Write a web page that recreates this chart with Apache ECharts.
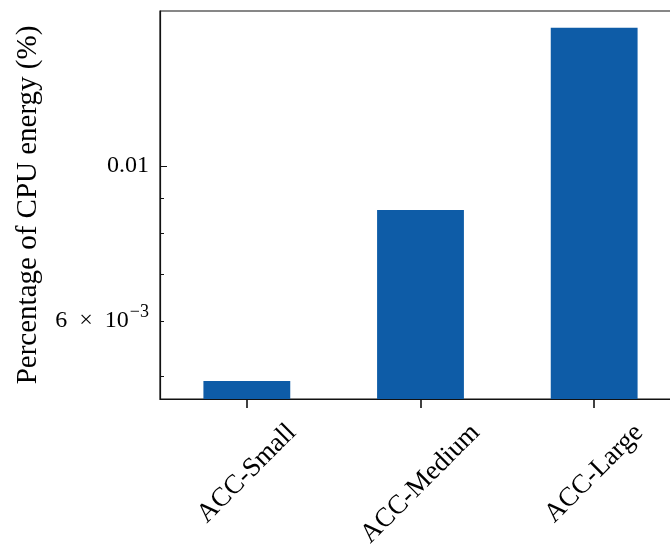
<!DOCTYPE html>
<html>
<head>
<meta charset="utf-8">
<script src="https://cdn.jsdelivr.net/npm/echarts@6/dist/echarts.min.js"></script>
<style>
  html, body { margin: 0; padding: 0; background: #fff; }
  #chart { width: 670px; height: 549px; }
</style>
</head>
<body>
<div id="chart"></div>
<script>
// Share of CPU energy per accelerator size (log scale)
const categories = ['ACC-Small', 'ACC-Medium', 'ACC-Large'];
const energyShare = [0.00492, 0.00864, 0.01576];

// Log-axis ticks: one major decade tick, minor ticks in between
const majorTickValues = [0.01];
const minorTickValues = [0.005, 0.006, 0.007, 0.008, 0.009];
const tickLabelValues = [0.006, 0.01];
const tickLabelTexts = ['{m|6\u2002×\u200210}{sup|−3}', '{m|0.01}'];

const yRange = [0.004635, 0.01665];

const FONT = '"Liberation Serif", "Times New Roman", serif';
const TICK_FONT_SIZE = 24;
const XLABEL_FONT_SIZE = 27;
const TITLE_FONT_SIZE = 29;
const BAR_COLOR = '#0e5ca7';
const AXIS_COLOR = '#111';

const measureCtx = document.createElement('canvas').getContext('2d');
function textWidth(text, size) {
  measureCtx.font = size + 'px ' + FONT;
  return measureCtx.measureText(text).width;
}

const chart = echarts.init(document.getElementById('chart'), null, { renderer: 'canvas' });

const yTickData = majorTickValues.map(v => [0, v, 1]).concat(minorTickValues.map(v => [0, v, 0]));
const yLabelData = tickLabelValues.map(v => [0, v]);

chart.setOption({
  animation: false,
  backgroundColor: '#fff',
  grid: {
    left: 160, top: 11, width: 521, height: 388,
    outerBoundsMode: 'none',
    containLabel: false,
    show: true, borderColor: AXIS_COLOR, borderWidth: 1.2, backgroundColor: 'transparent'
  },
  xAxis: {
    type: 'category',
    data: categories,
    axisLine: { show: true, lineStyle: { color: AXIS_COLOR, width: 1.2 } },
    axisTick: { show: true, alignWithLabel: true, length: 9, lineStyle: { color: AXIS_COLOR, width: 1.6 } },
    axisLabel: { show: false },
    splitLine: { show: false }
  },
  yAxis: {
    type: 'log',
    min: yRange[0],
    max: yRange[1],
    startValue: yRange[0],
    axisLine: { show: true, lineStyle: { color: AXIS_COLOR, width: 1.2 } },
    axisTick: { show: false },
    axisLabel: { show: false },
    splitLine: { show: false },
    minorTick: { show: false },
    name: 'Percentage of CPU energy (%)',
    nameLocation: 'middle',
    nameRotate: 90,
    nameGap: 117,
    nameTextStyle: { fontFamily: FONT, fontSize: TITLE_FONT_SIZE, color: '#000' }
  },
  series: [
    {
      type: 'bar',
      data: energyShare,
      barWidth: '50%',
      itemStyle: { color: BAR_COLOR },
      z: 2
    },
    {
      // y ticks drawn inward from the left axis
      type: 'custom',
      data: yTickData,
      z: 5,
      silent: true,
      renderItem: function (params, api) {
        const v = api.value(1);
        const major = api.value(2) === 1;
        const y = Math.round(api.coord([0, v])[1]) + 0.5;
        const x0 = params.coordSys.x;
        return {
          type: 'line',
          shape: { x1: x0, y1: y, x2: x0 + (major ? 7 : 4), y2: y },
          style: { stroke: AXIS_COLOR, lineWidth: 1 }
        };
      }
    },
    {
      // y tick labels, including the mantissa × power form
      type: 'custom',
      data: yLabelData,
      z: 5,
      silent: true,
      renderItem: function (params, api) {
        const v = api.value(1);
        const y = api.coord([0, v])[1];
        const x0 = params.coordSys.x;
        return {
          type: 'text',
          x: x0 - 11,
          y: y,
          style: {
            text: tickLabelTexts[params.dataIndex],
            align: 'right',
            verticalAlign: 'middle',
            fill: '#000',
            rich: {
              m: { fontFamily: FONT, fontSize: TICK_FONT_SIZE, fill: '#000' },
              sup: { fontFamily: FONT, fontSize: 18, fill: '#000', padding: [0, 0, 16, 1] }
            }
          }
        };
      }
    },
    {
      // rotated category labels centred under each tick
      type: 'custom',
      data: categories.map((c, i) => [i, yRange[0]]),
      z: 5,
      silent: true,
      renderItem: function (params, api) {
        const i = api.value(0);
        const p = api.coord([i, yRange[0]]);
        const text = categories[i];
        const w = textWidth(text, XLABEL_FONT_SIZE);
        const h = XLABEL_FONT_SIZE * 0.8;
        const half = (w + h) / (2 * Math.SQRT2);
        return {
          type: 'text',
          x: p[0],
          y: p[1] + 22 + half,
          rotation: Math.PI / 4,
          style: {
            text: text,
            fontFamily: FONT,
            fontSize: XLABEL_FONT_SIZE,
            fill: '#000',
            align: 'center',
            verticalAlign: 'middle'
          }
        };
      }
    }
  ]
});
</script>
</body>
</html>
